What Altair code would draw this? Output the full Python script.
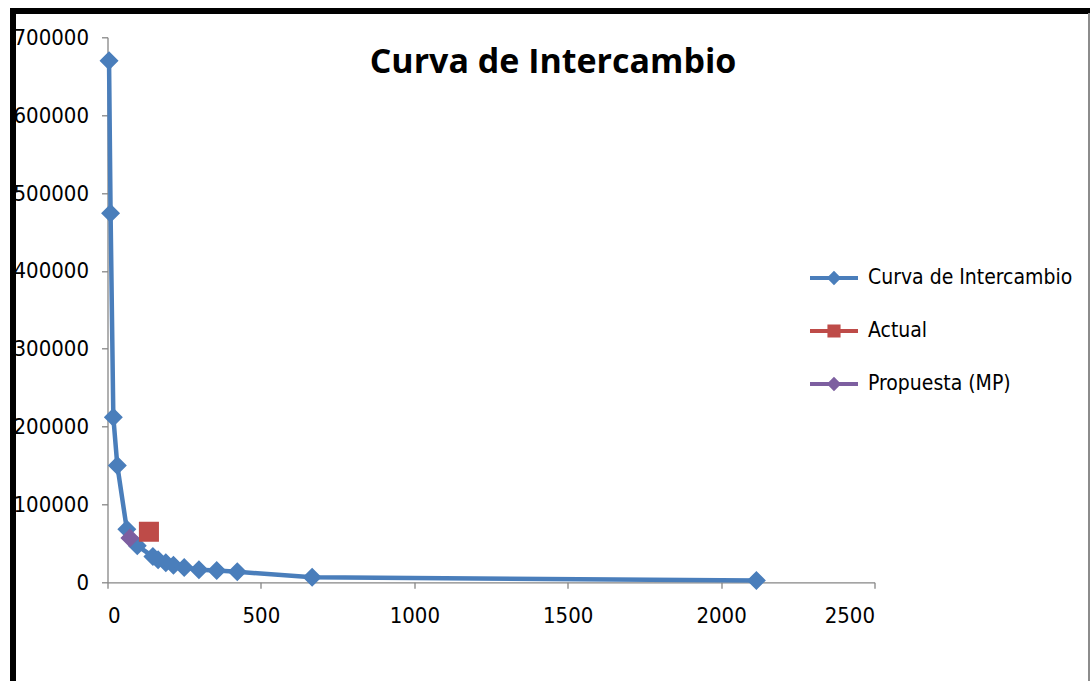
import altair as alt
import pandas as pd

# Curva de Intercambio
curve_x = [5, 10, 19, 32, 63, 97, 148, 165, 190, 215, 250, 298, 356, 423, 667, 2115]
curve_y = [670000, 474000, 212000, 150000, 68000, 47000, 33000, 29000, 25000, 22000, 19000, 16000, 15000, 13500, 6500, 2400]

actual_x = [135]
actual_y = [65000]

prop_x = [73]
prop_y = [57000]

series_names = ["Curva de Intercambio", "Actual", "Propuesta (MP)"]
series_colors = ["#4A7EBB", "#BE4B48", "#7D5FA0"]

x_ticks = [0, 500, 1000, 1500, 2000, 2500]
y_ticks = [0, 100000, 200000, 300000, 400000, 500000, 600000, 700000]

rows = []
for i, (a, b) in enumerate(zip(curve_x, curve_y)):
    rows.append({"serie": series_names[0], "x": a, "y": b, "o": i})
for a, b in zip(actual_x, actual_y):
    rows.append({"serie": series_names[1], "x": a, "y": b, "o": 0})
for a, b in zip(prop_x, prop_y):
    rows.append({"serie": series_names[2], "x": a, "y": b, "o": 0})
df = pd.DataFrame(rows)

LABEL_FONT = "DejaVu Sans Condensed, Liberation Sans Narrow, sans-serif"

# symbol paths: a horizontal segment (only visible when stroked, i.e. in the legend) + marker
sym_diamond = "M-1,0 L1,0 M-0.18,0 L0,-0.18 L0.18,0 L0,0.18 Z"
sym_square = "M-1,0 L1,0 M-0.19,-0.19 L0.19,-0.19 L0.19,0.19 L-0.19,0.19 Z"

legend_cfg = dict(title=None, orient="none", legendX=700.5, legendY=214.7,
                  symbolSize=2304, symbolStrokeWidth=4,
                  labelFontSize=21, labelFont=LABEL_FONT, labelColor="#000000",
                  labelOffset=8, rowPadding=14, labelLimit=400)

xs = alt.X("x:Q", scale=alt.Scale(domain=[0, 2500], nice=False),
           axis=alt.Axis(values=x_ticks, format="d", title=None, grid=False, labelPadding=17))
ys = alt.Y("y:Q", scale=alt.Scale(domain=[0, 700000], nice=False),
           axis=alt.Axis(values=y_ticks, format="d", title=None, grid=False, labelPadding=13))

cscale = alt.Scale(domain=series_names, range=series_colors)

line = alt.Chart(df).transform_filter(alt.datum.serie == series_names[0]).mark_line(
    strokeWidth=4.5, color=series_colors[0]).encode(x=xs, y=ys, order="o:Q")

pts = alt.Chart(df).mark_point(filled=False, opacity=1, strokeWidth=0).encode(
    x=xs, y=ys,
    stroke=alt.Stroke("serie:N", scale=cscale, legend=alt.Legend(**legend_cfg)),
    fill=alt.Fill("serie:N", scale=cscale, legend=alt.Legend(**legend_cfg)),
    shape=alt.Shape("serie:N", scale=alt.Scale(domain=series_names,
                                               range=[sym_diamond, sym_square, sym_diamond]),
                    legend=alt.Legend(**legend_cfg)),
    size=alt.value(11150),
)

frame_left = alt.Chart(df).mark_rule(color="black", strokeWidth=4.5).encode(
    x=alt.value(-94.5), y=alt.value(-29), y2=alt.value(700))
frame_top = alt.Chart(df).mark_rule(color="black", strokeWidth=5).encode(
    x=alt.value(-97), x2=alt.value(982), y=alt.value(-26.5))
frame_right = alt.Chart(df).mark_rule(color="#8c8c8c", strokeWidth=1.5).encode(
    x=alt.value(981.5), y=alt.value(-24), y2=alt.value(700))

chart = alt.layer(line, pts, frame_left, frame_top, frame_right).properties(
    width=767, height=545,
    title=alt.TitleParams("Curva de Intercambio", font="Open Sans", fontSize=34, fontWeight="bold",
                          color="#000000", orient="none", anchor="start", align="center",
                          dx=445.5, dy=35.7, baseline="alphabetic"),
    autosize=alt.AutoSizeParams(type="none"),
    padding={"left": 107.5, "top": 37.3, "right": 215.5, "bottom": 98.5},
).configure_view(stroke=None).configure_axis(
    domainColor="#868686", tickColor="#868686", domainWidth=1.3, tickWidth=1.3, tickSize=6,
    labelFont=LABEL_FONT, labelFontSize=22, labelColor="#000000"
)

chart.save("out.html", embed_options={"renderer": "svg", "actions": False})
